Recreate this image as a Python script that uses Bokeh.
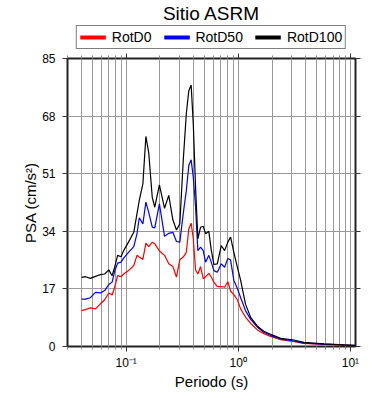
from bokeh.plotting import figure
from bokeh.layouts import column
from bokeh.models import FixedTicker, LogAxis, LinearAxis, Legend, LegendItem, CDSView, IndexFilter
from bokeh.embed import file_html
from bokeh.resources import INLINE

# ---- data ----
periods = [0.040, 0.0433, 0.048, 0.0532, 0.059, 0.0644, 0.070, 0.075, 0.079, 0.084,
           0.090, 0.095, 0.105, 0.117, 0.125, 0.131, 0.141, 0.150, 0.159, 0.171,
           0.180, 0.198, 0.220, 0.240, 0.261, 0.281, 0.301, 0.323, 0.344, 0.362,
           0.380, 0.397, 0.416, 0.436, 0.461, 0.487, 0.511, 0.546, 0.574, 0.606,
           0.650, 0.705, 0.755, 0.807, 0.854, 0.913, 0.980, 1.05, 1.16, 1.29,
           1.48, 1.69, 1.94, 2.39, 3.04, 3.85, 5.81, 8.77, 11.1]

rotd100 = [20.4, 20.6, 20.1, 20.7, 21.2, 21.4, 22.6, 20.9, 23.4, 26.9,
           26.5, 28.3, 30.8, 33.7, 39.2, 43.1, 48.0, 62.0, 57.2, 44.0,
           41.1, 47.7, 40.8, 44.6, 37.4, 34.4, 36.2, 54.9, 68.7, 75.5,
           77.2, 65.7, 47.0, 31.8, 35.2, 35.5, 33.3, 34.0, 28.5, 24.2,
           24.4, 29.8, 28.3, 30.8, 32.3, 27.8, 23.5, 19.5, 12.5, 8.6,
           6.0, 4.5, 3.6, 2.4, 2.0, 1.2, 0.8, 0.5, 0.35]

rotd50 = [14.0, 14.0, 14.4, 16.0, 15.8, 16.5, 18.3, 19.0, 22.2, 24.6,
          24.9, 26.1, 27.8, 29.5, 33.3, 38.0, 36.2, 42.6, 39.6, 35.2,
          35.0, 42.1, 32.5, 33.4, 33.7, 31.0, 30.8, 39.2, 46.0, 53.4,
          55.1, 50.0, 41.1, 28.3, 29.3, 28.3, 24.9, 26.9, 24.9, 22.4,
          21.9, 24.4, 23.4, 26.0, 25.5, 19.5, 17.2, 14.4, 10.6, 8.0,
          5.7, 4.2, 3.3, 2.2, 1.7, 1.0, 0.7, 0.45, 0.3]

rotd0 = [10.6, 10.9, 11.4, 11.1, 12.6, 13.8, 15.8, 15.2, 17.5, 20.9,
         20.6, 21.4, 22.4, 23.9, 26.9, 26.4, 25.7, 30.5, 29.5, 30.8,
         30.3, 28.2, 26.9, 24.4, 23.6, 20.5, 25.6, 26.4, 27.8, 34.7,
         36.4, 31.8, 22.6, 21.4, 23.6, 20.0, 20.6, 21.6, 20.5, 19.0,
         17.7, 17.7, 17.5, 19.1, 16.3, 15.3, 13.8, 11.1, 8.7, 6.8,
         4.9, 3.8, 3.0, 2.0, 1.5, 0.9, 0.6, 0.4, 0.3]

series_names = ["RotD0", "RotD50", "RotD100"]
series_colors = ["#ff0000", "#0000ff", "#000000"]

y_ticks = [0, 17, 34, 51, 68, 85]
x_major = [0.1, 1, 10]
x_minor = [round(m * d, 3) for d in (0.01, 0.1, 1) for m in range(2, 10) if 0.03 <= m * d <= 11]
x_grid = sorted(x_minor + x_major)
x_labels = {0.1: "10\u207b\u00b9", 1: "10\u2070", 10: "10\u00b9"}

FONT = "Liberation Sans"
all_series = [rotd0, rotd50, rotd100]

# ---------------- header figure: title + legend ----------------
head = figure(width=390, height=50, x_axis_type="log",
              x_range=(0.03, 11.1), y_range=(0, 85),
              output_backend="svg", toolbar_location=None,
              x_axis_location=None, y_axis_location=None,
              min_border_left=67, min_border_right=35, min_border_top=0, min_border_bottom=0,
              title="Sitio ASRM")
head.grid.visible = False
head.outline_line_color = None
head.background_fill_color = "white"
head.border_fill_color = "white"
head.title.align = "center"
head.title.text_font = FONT
head.title.text_font_size = "19px"
head.title.text_font_style = "normal"
head.title.text_color = "black"
head.title.standoff = 0
head.title.offset = 0

legend_items = []
for name, col, vals in zip(series_names, series_colors, all_series):
    swatch = head.line(periods, vals, line_color=col, line_width=4,
                       view=CDSView(filter=IndexFilter(indices=[0])))
    legend_items.append(LegendItem(label=name, renderers=[swatch]))

legend = Legend(items=legend_items, location="center", orientation="horizontal",
                glyph_width=26, glyph_height=14, label_height=14,
                label_standoff=6, spacing=12, padding=3, margin=0,
                label_text_font=FONT, label_text_font_size="14px", label_text_color="black",
                border_line_color="black", border_line_width=1.5,
                background_fill_color="white", background_fill_alpha=1.0)
head.add_layout(legend, "center")

# ---------------- main figure ----------------
p = figure(width=390, height=350, x_axis_type="log",
           x_range=(0.03, 11.1), y_range=(0, 85),
           output_backend="svg", toolbar_location=None,
           min_border_left=67, min_border_right=35, min_border_top=8, min_border_bottom=54)

p.background_fill_color = "white"
p.border_fill_color = "white"
p.outline_line_color = "#222222"
p.outline_line_width = 2

p.xgrid.ticker = FixedTicker(ticks=x_grid)
p.ygrid.ticker = FixedTicker(ticks=y_ticks)
for g in (p.xgrid[0], p.ygrid[0]):
    g.grid_line_color = "#999999"
    g.grid_line_width = 1

xa = p.xaxis[0]
xa.ticker = FixedTicker(ticks=x_major, minor_ticks=x_minor)
xa.major_label_overrides = x_labels
ya = p.yaxis[0]
ya.ticker = FixedTicker(ticks=y_ticks)

for ax in (xa, ya):
    ax.axis_line_color = None
    ax.major_tick_in = 0
    ax.major_tick_out = 5
    ax.minor_tick_in = 0
    ax.minor_tick_out = 3
    ax.major_tick_line_color = "#333333"
    ax.minor_tick_line_color = "#888888"
    ax.major_label_text_font = FONT
    ax.major_label_text_font_size = "12px"
    ax.major_label_text_color = "black"
    ax.axis_label_text_font = FONT
    ax.axis_label_text_font_size = "15px"
    ax.axis_label_text_font_style = "normal"
    ax.axis_label_text_color = "black"

xa.axis_label = "Periodo (s)"
xa.major_label_standoff = 4
xa.axis_label_standoff = 0
ya.axis_label = "PSA (cm/s\u00b2)"
ya.major_label_standoff = 7
ya.axis_label_standoff = 0
ya.major_label_orientation = "horizontal"

top = LogAxis(ticker=FixedTicker(ticks=x_major, minor_ticks=x_minor),
              major_label_text_font_size="1px", major_label_text_alpha=0,
              major_label_standoff=0,
              axis_line_color=None, major_tick_in=0, major_tick_out=5,
              minor_tick_in=0, minor_tick_out=3,
              major_tick_line_color="#333333", minor_tick_line_color="#888888")
p.add_layout(top, "above")
right = LinearAxis(ticker=FixedTicker(ticks=y_ticks),
                   major_label_text_font_size="1px", major_label_text_alpha=0,
                   major_label_standoff=0,
                   axis_line_color=None, major_tick_in=0, major_tick_out=5,
                   minor_tick_line_color=None, major_tick_line_color="#333333")
p.add_layout(right, "right")

for col, vals in zip(series_colors, all_series):
    p.line(periods, vals, line_color=col, line_width=1.2)

layout = column(head, p, spacing=0)
open("out.html", "w").write(file_html(layout, INLINE))
